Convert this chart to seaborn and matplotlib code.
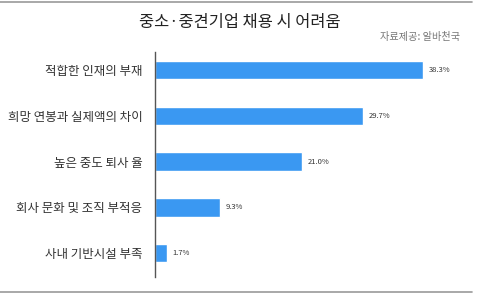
import matplotlib
matplotlib.use("Agg")
import matplotlib.pyplot as plt
import seaborn as sns
import pandas as pd

categories = ["적합한 인재의 부재", "희망 연봉과 실제액의 차이", "높은 중도 퇴사 율",
              "회사 문화 및 조직 부적응", "사내 기반시설 부족"]
values = [38.3, 29.7, 21.0, 9.3, 1.7]
value_labels = ["38.3%", "29.7%", "21.0%", "9.3%", "1.7%"]
title = "중소·중견기업 채용 시 어려움"
source = "자료제공: 알바천국"

sns.set_theme(style="white")
plt.rcParams['font.family'] = ['Noto Sans CJK KR', 'DejaVu Sans']

df = pd.DataFrame({"cat": categories, "val": values})

fig = plt.figure(figsize=(4.8, 2.95), dpi=100)
ax = fig.add_axes([155/480, 1 - 277/295, 315/480, (277-52)/295])
sns.barplot(data=df, x="val", y="cat", orient="h", color="#3a98f2",
            width=0.4, ax=ax, saturation=1)
ax.set_xlim(0, 45)
ax.set_ylim(4.52, -0.39)
ax.set_xlabel("")
ax.set_ylabel("")
ax.set_xticks([])
for s in ["top", "right", "bottom"]:
    ax.spines[s].set_visible(False)
ax.spines["left"].set_color("#555555")
ax.spines["left"].set_linewidth(1.0)
ax.tick_params(axis="y", length=0, pad=9, labelsize=9, labelcolor="#333333")
for i, (v, lab) in enumerate(zip(values, value_labels)):
    ax.text(v + 0.8, i, lab, va="center", ha="left", fontsize=5.5, color="#333333")

fig.text(0.5, 1 - 22/295, title, ha="center", va="center", fontsize=11.8, color="#222222")
fig.text(460/480, 1 - 37/295, source, ha="right", va="center", fontsize=7.3, color="#777777")

fig.add_artist(plt.Line2D([0, 472/480], [1 - 1.5/295, 1 - 1.5/295], color="#999999", lw=1.2))
fig.add_artist(plt.Line2D([0, 472/480], [1 - 292/295, 1 - 292/295], color="#999999", lw=1.2))

fig.savefig("out.png", dpi=100, facecolor="white")
